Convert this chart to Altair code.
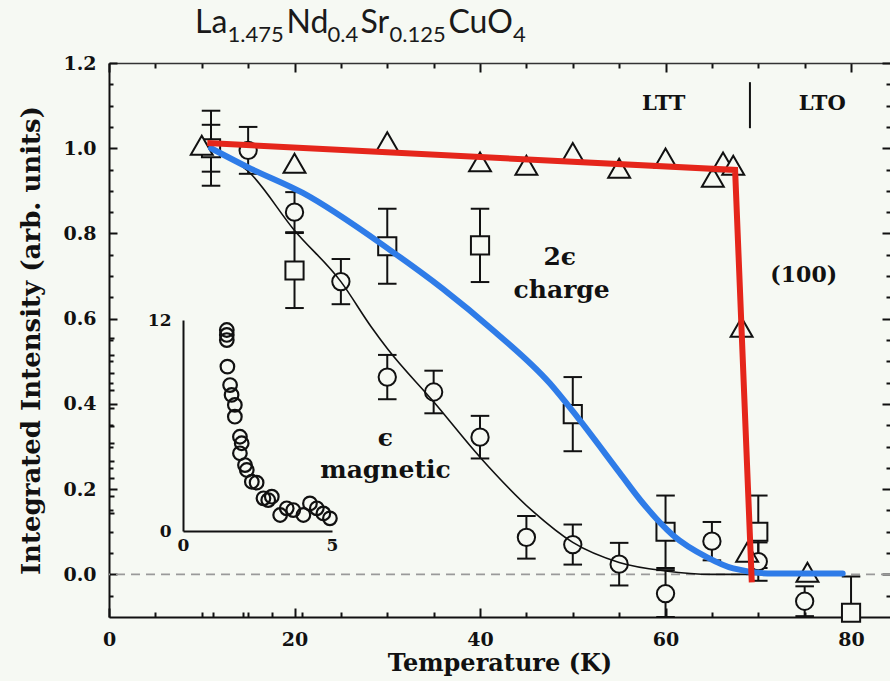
import altair as alt
import pandas as pd

BG = "#f6f9f3"
INK = "#111111"
SERIF = "DejaVu Serif"

# ---------------- data ----------------
# (100) superlattice peak (triangles)
tri_T = [10, 20, 30, 40, 45, 50, 55, 60, 65.1, 66.2, 67.3, 68.2, 68.8, 75.3]
tri_I = [1.007, 0.965, 1.015, 0.968, 0.96, 0.99, 0.953, 0.977, 0.932, 0.968, 0.96, 0.58, 0.052, 0.005]

# magnetic (epsilon) peak (circles)
mag_T = [11, 15, 20, 25, 30, 35, 40, 45, 50, 55, 60, 65, 70, 75]
mag_I = [1.0, 0.995, 0.85, 0.687, 0.463, 0.428, 0.322, 0.087, 0.07, 0.024, -0.045, 0.078, 0.03, -0.063]
mag_E = [0.055, 0.055, 0.047, 0.053, 0.052, 0.05, 0.05, 0.05, 0.047, 0.05, 0.055, 0.045, 0.045, 0.035]

# charge (2 epsilon) peak (squares)
chg_T = [11, 20, 30, 40, 50, 60, 70, 80]
chg_I = [1.0, 0.713, 0.77, 0.772, 0.376, 0.1, 0.1, -0.09]
chg_E = [0.088, 0.088, 0.088, 0.086, 0.087, 0.085, 0.085, 0.085]

# black fit through magnetic points
fit_T = [11, 15, 20, 25, 28.3, 30, 35, 40, 45.8, 50, 55, 60, 65, 77]
fit_I = [1.0, 0.946, 0.807, 0.687, 0.58, 0.53, 0.405, 0.275, 0.146, 0.075, 0.028, 0.008, 0.0, 0.0]

# blue hand-drawn curve (charge)
blue_T = [11, 15, 20.9, 30.3, 36, 41.4, 47.5, 50.5, 55.1, 57.3, 60.8, 64.5, 67.3, 71.6, 79.1]
blue_I = [1.0, 0.955, 0.895, 0.761, 0.67, 0.573, 0.449, 0.369, 0.237, 0.174, 0.092, 0.04, 0.014, 0.002, 0.002]

# red hand-drawn line (100)
red_T = [10.6, 67.5, 69.3]
red_I = [1.012, 0.949, -0.019]

# inset (0..5 / 0..12)
ins_x = [1.47, 1.47, 1.47, 1.49, 1.58, 1.63, 1.74, 1.74, 1.91, 1.97, 1.91, 2.08, 2.14,
         2.31, 2.47, 2.7, 2.86, 2.98, 3.26, 3.48, 3.7, 4.04, 4.26, 4.49, 4.71, 4.93]
ins_y = [11.43, 11.15, 10.86, 9.35, 8.3, 7.74, 7.17, 6.5, 5.36, 4.99, 4.42, 3.75, 3.47,
         2.8, 2.75, 1.86, 1.76, 1.95, 0.91, 1.29, 1.19, 0.91, 1.57, 1.29, 1.0, 0.72]

# annotations (data coordinates)
ann_big_text = ["2ϵ", "charge", "ϵ", "magnetic"]
ann_big_T = [48.6, 48.8, 29.8, 29.8]
ann_big_I = [0.744, 0.667, 0.319, 0.244]
ann_mid_text = ["(100)"]
ann_mid_T = [74.9]
ann_mid_I = [0.702]
ann_phase_text = ["LTT", "LTO"]
ann_phase_T = [59.8, 76.9]
ann_phase_I = [1.104, 1.104]
div_T = [69.1]
div_lo = [1.047]
div_hi = [1.155]

# axis tick values
x_major = [0, 20, 40, 60, 80]
x_minor = [5, 10, 15, 25, 30, 35, 45, 50, 55, 65, 70, 75]
y_major = [0.0, 0.2, 0.4, 0.6, 0.8, 1.0, 1.2]
y_minor = [-0.05, 0.05, 0.1, 0.15, 0.25, 0.3, 0.35, 0.45, 0.5, 0.55, 0.65, 0.7, 0.75,
           0.85, 0.9, 0.95, 1.05, 1.1, 1.15]
ins_x_labels = [0, 5]
ins_x_ticks = [1, 2, 3, 4]
ins_y_labels = [0, 12]
ins_y_ticks = [1, 2, 3, 4, 5, 6, 7, 8, 9, 10, 11]

# title pieces: (text, is_subscript)
title_parts = [("La", False), ("1.475", True), ("Nd", False), ("0.4", True),
               ("Sr", False), ("0.125", True), ("CuO", False), ("4", True)]

# ---------------- layout ----------------
W, H = 781, 554
XS = alt.Scale(domain=[0, 84.2], nice=False, zero=False)
YS = alt.Scale(domain=[-0.1, 1.2], nice=False, zero=False)
YSC = alt.Scale(domain=[-0.1, 1.2], nice=False, zero=False, clamp=True)
XI = alt.Scale(domain=[0, 5], range=[74, 223], nice=False, zero=False)
YI = alt.Scale(domain=[0, 12], range=[468, 257], nice=False, zero=False)

dummy = pd.DataFrame({"x": [0.0], "y": [0.0]})

tri = pd.DataFrame({"T": tri_T, "I": tri_I})
mag = pd.DataFrame({"T": mag_T, "I": mag_I, "E": mag_E})
chg = pd.DataFrame({"T": chg_T, "I": chg_I, "E": chg_E})
err = pd.concat([mag, chg], ignore_index=True)
fit = pd.DataFrame({"T": fit_T, "I": fit_I})
blue = pd.DataFrame({"T": blue_T, "I": blue_I})
red = pd.DataFrame({"T": red_T, "I": red_I})
ins = pd.DataFrame({"x": ins_x, "y": ins_y})
ann_big = pd.DataFrame({"T": ann_big_T, "I": ann_big_I, "t": ann_big_text})
ann_mid = pd.DataFrame({"T": ann_mid_T, "I": ann_mid_I, "t": ann_mid_text})
ann_ph = pd.DataFrame({"T": ann_phase_T, "I": ann_phase_I, "t": ann_phase_text})
div = pd.DataFrame({"T": div_T, "lo": div_lo, "hi": div_hi})

ax_common = dict(grid=False, labelFont=SERIF, labelFontWeight="bold", labelColor=INK,
                 titleFont=SERIF, titleFontWeight="bold", titleColor=INK,
                 domainColor=INK, tickColor=INK, labelFlush=False, labelOverlap=False)


def tick_axis(orient, values, size, width=2):
    return alt.Axis(orient=orient, values=values, offset=-size, tickSize=size, tickWidth=width,
                    tickColor=INK, labels=False, domain=False, grid=False, title=None)


def frame(xa, ya, xs=XS, ys=YS):
    return alt.Chart(dummy).mark_point(opacity=0).encode(
        x=alt.X("x:Q", scale=xs, axis=xa),
        y=alt.Y("y:Q", scale=ys, axis=ya),
    )


def xy(xf="T", yf="I", ys=YS):
    return dict(x=alt.X(f"{xf}:Q", scale=XS, axis=None), y=alt.Y(f"{yf}:Q", scale=ys, axis=None))


layers = []

# zero line
layers.append(
    alt.Chart(pd.DataFrame({"y": [0.0]})).mark_rule(strokeDash=[9, 6], color="#9a9a9a", strokeWidth=1.6)
    .encode(y=alt.Y("y:Q", scale=YS, axis=None))
)

# error bars
eb = alt.Chart(err).transform_calculate(
    lo="datum.I - datum.E", hi="datum.I + datum.E", xl="datum.T - 1.0", xr="datum.T + 1.0"
)
layers.append(eb.mark_rule(color=INK, strokeWidth=2).encode(
    x=alt.X("T:Q", scale=XS, axis=None), y=alt.Y("lo:Q", scale=YSC, axis=None), y2="hi:Q"))
layers.append(eb.mark_rule(color=INK, strokeWidth=2).encode(
    x=alt.X("xl:Q", scale=XS, axis=None), x2="xr:Q", y=alt.Y("lo:Q", scale=YSC, axis=None)))
layers.append(eb.mark_rule(color=INK, strokeWidth=2).encode(
    x=alt.X("xl:Q", scale=XS, axis=None), x2="xr:Q", y=alt.Y("hi:Q", scale=YSC, axis=None)))

# markers
layers.append(alt.Chart(mag).mark_point(shape="circle", size=300, fill=BG, fillOpacity=1, stroke=INK,
                                        strokeWidth=2, opacity=1).encode(**xy()))
layers.append(alt.Chart(chg).mark_point(shape="square", size=330, fill=BG, fillOpacity=1, stroke=INK,
                                        strokeWidth=2, opacity=1).encode(**xy()))
layers.append(alt.Chart(tri).mark_point(shape="triangle-up", size=480, fill=BG, fillOpacity=1, stroke=INK,
                                        strokeWidth=2, opacity=1).encode(**xy()))

# fit lines
layers.append(alt.Chart(fit).mark_line(color=INK, strokeWidth=1.6, interpolate="monotone").encode(**xy()))
layers.append(alt.Chart(blue).mark_line(color="#2f7ce8", strokeWidth=6, interpolate="monotone",
                                        strokeCap="round").encode(**xy()))
layers.append(alt.Chart(red).mark_line(color="#e5261b", strokeWidth=6, strokeJoin="miter").encode(**xy()))

# annotations
layers.append(alt.Chart(ann_big).mark_text(font=SERIF, fontWeight="bold", fontSize=25, color=INK,
                                           align="center", baseline="middle").encode(text="t:N", **xy()))
layers.append(alt.Chart(ann_mid).mark_text(font=SERIF, fontWeight="bold", fontSize=22, color=INK,
                                           align="center", baseline="middle").encode(text="t:N", **xy()))
layers.append(alt.Chart(ann_ph).mark_text(font=SERIF, fontWeight="bold", fontSize=21, color=INK,
                                          align="center", baseline="middle").encode(text="t:N", **xy()))
layers.append(alt.Chart(div).mark_rule(color=INK, strokeWidth=2).encode(
    x=alt.X("T:Q", scale=XS, axis=None), y=alt.Y("lo:Q", scale=YS, axis=None), y2="hi:Q"))

# inset
layers.append(alt.Chart(ins).mark_point(shape="circle", size=185, stroke=INK, strokeWidth=2.2,
                                        fill=BG, fillOpacity=0, opacity=1).encode(
    x=alt.X("x:Q", scale=XI, axis=None), y=alt.Y("y:Q", scale=YI, axis=None)))
layers.append(frame(
    alt.Axis(orient="bottom", values=ins_x_labels, offset=-(H - 468), ticks=False, domain=True,
             domainWidth=2, labelFontSize=17, labelPadding=6, title=None, format="d", **ax_common),
    alt.Axis(orient="left", values=ins_y_labels, offset=-74, ticks=False, domain=True,
             domainWidth=2, labelFontSize=17, labelPadding=12, title=None, format="d", **ax_common),
    xs=XI, ys=YI))
layers.append(frame(
    tick_axis("bottom", ins_x_ticks, 5), tick_axis("left", ins_y_ticks, 5), xs=XI, ys=YI))

# main axes
layers.append(frame(
    alt.Axis(orient="bottom", values=x_major, ticks=False, domain=True, domainWidth=2,
             labelFontSize=19, labelPadding=13, format="d", title="Temperature (K)",
             titleFontSize=24, titlePadding=2, **ax_common),
    alt.Axis(orient="left", values=y_major, ticks=False, domain=True, domainWidth=2,
             labelFontSize=19, labelPadding=13, format=".1f",
             title="Integrated Intensity (arb. units)", titleFontSize=26, titlePadding=18,
             **ax_common)))
layers.append(frame(tick_axis("bottom", x_major, 9), tick_axis("left", y_major, 8)))
layers.append(frame(tick_axis("bottom", x_minor, 5), tick_axis("left", y_minor, 4)))
layers.append(frame(tick_axis("top", x_major, 9), tick_axis("right", y_major, 8)))
layers.append(frame(tick_axis("top", x_minor, 5), tick_axis("right", y_minor, 4)))
layers.append(frame(
    alt.Axis(orient="top", ticks=False, labels=False, domain=True, domainWidth=1.6,
             domainColor="#333333", grid=False, title=None),
    None))

# compound title with subscripts (pieces laid out left to right)
title_x = [86, 118.5, 177.5, 218.5, 251.5, 280.5, 339.5, 404]
for (txt, sub), px in zip(title_parts, title_x):
    layers.append(alt.Chart(dummy).mark_text(
        text=txt, font="Lato", fontSize=22 if sub else 32, color="#1a1a1a",
        align="left", baseline="alphabetic").encode(
        x=alt.value(px), y=alt.value(-21 if sub else -30)))

chart = alt.layer(*layers).resolve_scale(x="independent", y="independent").properties(
    width=W, height=H,
    autosize=alt.AutoSizeParams(type="none"),
    padding={"left": 109, "top": 63, "right": 0, "bottom": 64},
    background=BG,
).configure_view(stroke=None)

chart.save("out.html", embed_options={"renderer": "svg", "actions": False})
